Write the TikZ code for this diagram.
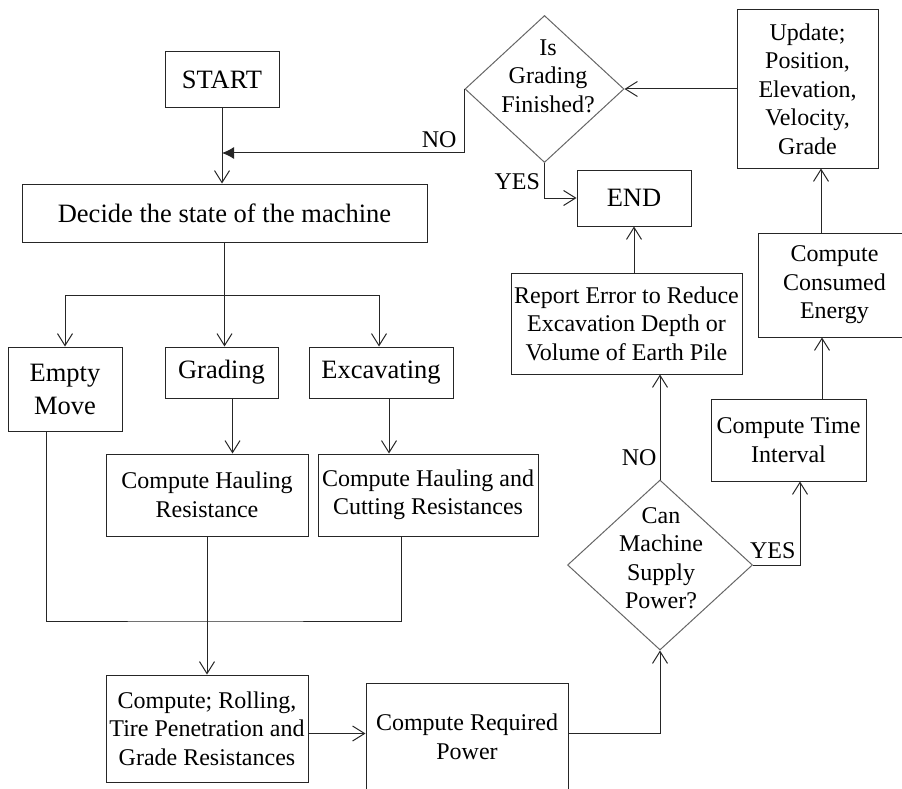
\documentclass[tikz,border=0pt]{standalone}
\usepackage{fontspec}
\setmainfont{Liberation Serif}
\usetikzlibrary{arrows.meta,shapes.geometric}
\newcommand{\bigtxt}{\fontsize{26.5}{33}\selectfont}
\newcommand{\smtxt}{\fontsize{24}{28.5}\selectfont}
\tikzset{
  box/.style={draw=black!85, line width=1pt, align=center, inner sep=2pt},
  dia/.style={draw=black!60, line width=1pt, shape=diamond, inner sep=0pt},
  txt/.style={align=center, font=\smtxt, inner sep=0pt},
  lbl/.style={font=\smtxt, inner sep=2pt}
}

\begin{document}
\begin{tikzpicture}[x=1pt, y=-1pt, line width=1pt, draw=black!85,
    >={Straight Barb[length=12pt,width=15pt]}]
  \useasboundingbox (0,0) rectangle (902,789);
  % left column
  \node[box, font=\bigtxt, minimum width=114, minimum height=56] (start) at (222, 80) {START};
  \node[box, font=\bigtxt, minimum width=405, minimum height=58] (state) at (224.5, 213) {Decide the state of the machine};
  \node[box, font=\bigtxt, minimum width=114, minimum height=84] (empty) at (65, 389) {Empty\\Move};
  \node[box, font=\bigtxt, minimum width=113, minimum height=51] (grad) at (221.5, 372.5) {Grading};
  \node[box, font=\bigtxt, minimum width=144, minimum height=51] (excav) at (381, 372.5) {Excavating};
  \node[box, font=\smtxt, minimum width=202, minimum height=82] (haul) at (207, 495) {Compute Hauling\\Resistance};
  \node[box, font=\smtxt, minimum width=220, minimum height=82] (hcut) at (428, 495) {Compute Hauling and\\Cutting Resistances};
  \node[box, font=\smtxt, minimum width=202, minimum height=107] (roll) at (207, 728.5) {Compute; Rolling,\\Tire Penetration and\\Grade Resistances};
  \node[box, font=\smtxt, minimum width=202, minimum height=108] (power) at (467, 737) {Compute Required\\Power};
  % right column
  \node[dia, minimum width=185, minimum height=170] (canq) at (660, 565) {};
  \node[txt] (canqT) at (661, 558) {Can\\Machine\\Supply\\Power?};
  \node[box, font=\smtxt, minimum width=231, minimum height=101] (report) at (626.5, 323.5) {Report Error to Reduce\\Excavation Depth or\\Volume of Earth Pile};
  \node[box, font=\bigtxt, minimum width=114, minimum height=56] (stop) at (634, 198) {END};
  \node[dia, minimum width=159, minimum height=147] (doneq) at (544.5, 89) {};
  \node[txt] (doneqT) at (548, 76) {Is\\Grading\\Finished?};
  \node[box, font=\smtxt, minimum width=141, minimum height=158] (update) at (807.5, 89) {Update;\\Position,\\Elevation,\\Velocity,\\Grade};
  \node[box, font=\smtxt, minimum width=153, minimum height=104] (energy) at (834.5, 285) {Compute\\Consumed\\Energy};
  \node[box, font=\smtxt, minimum width=155, minimum height=82] (tint) at (788.5, 440) {Compute Time\\Interval};
  \coordinate (back) at (222, 153);
  \coordinate (split) at (224.5, 295);
  \coordinate (merge) at (207, 621);
  % connectors
  \draw [->] (start) -- (start |- state.north);
  \draw [-{Latex[length=12pt,width=12pt]}] (doneq.west) |- node [lbl, anchor=south east, xshift=-5.5pt, yshift=3pt, pos=0.5] {NO} (back);
  \draw [->] (state.south) -- (state.south |- grad.north);
  \draw [->] (split) -| (empty.north);
  \draw [->] (split) -| ([xshift=-2pt]excav.north);
  \draw [->] ([xshift=11pt]grad.south) -- ([xshift=11pt]grad.south |- haul.north);
  \draw [->] ([xshift=8pt]excav.south) -- ([xshift=8pt]excav.south |- hcut.north);
  \draw ([xshift=-19pt]empty.south) |- (merge) -| ([xshift=-27pt]hcut.south);
  \draw [->] (haul.south) -- (roll.north);
  \draw [->] ([yshift=-5pt]roll.east) -- ([yshift=-5pt]roll.east -| power.west);
  \draw [->] ([yshift=4pt]power.east) -| (canq.south);
  \draw [->] (canq.north) -- node [lbl, left=1pt, pos=0.21] {NO} (canq.north |- report.south);
  \draw [->] (stop.south |- report.north) -- (stop.south);
  \draw [->] (canq.east) -| node [lbl, above=4pt, pos=0.21] {YES} ([xshift=11.5pt]tint.south);
  \draw [->] ([xshift=33.5pt]tint.north) -- ([xshift=33.5pt]tint.north |- energy.south);
  \draw [->] ([xshift=-13.5pt]energy.north) -- ([xshift=-13.5pt]energy.north |- update.south);
  \draw [->] (update.west) -- (doneq.east);
  \draw [->] (doneq.south) |- node [lbl, left=2pt, pos=0.26] {YES} (stop.west);
\end{tikzpicture}
\end{document}
